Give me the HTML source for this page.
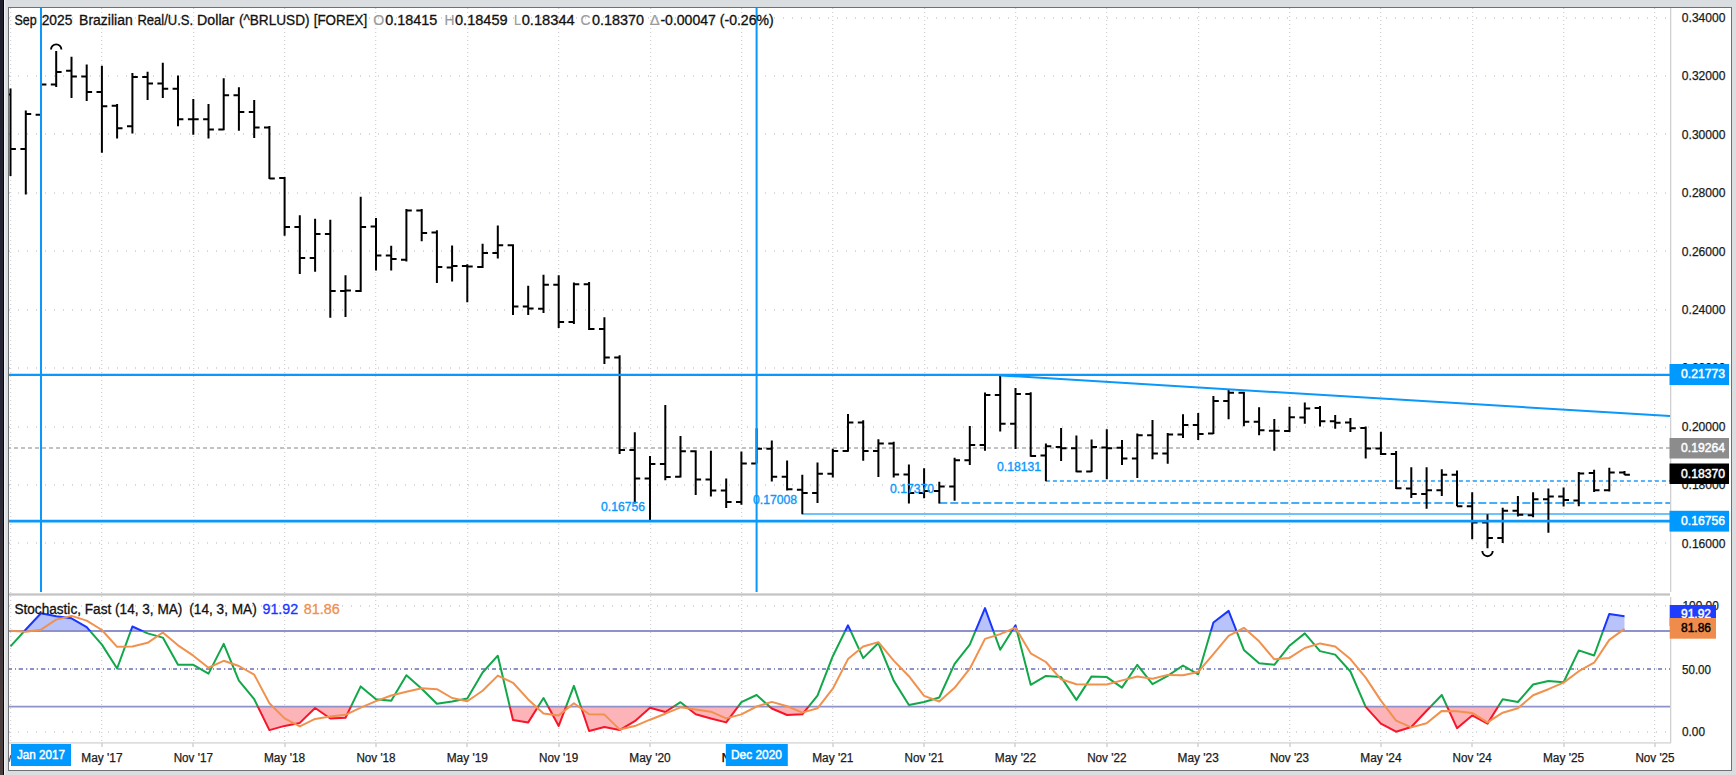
<!DOCTYPE html>
<html lang="en"><head><meta charset="utf-8"><title>Brazilian Real/U.S. Dollar (^BRLUSD) chart</title>
<style>
html,body{margin:0;padding:0;background:#dadee1;overflow:hidden}
body{width:1736px;height:775px;position:relative}
svg{position:absolute;left:0;top:0;display:block}
text{font-family:"Liberation Sans", sans-serif;}
.b{font-weight:normal;stroke:currentColor;stroke-width:0.45px}
</style></head><body>
<svg width="1736" height="775" viewBox="0 0 1736 775">
<defs>
<linearGradient id="lg" x1="0" y1="0" x2="0" y2="1"><stop offset="0" stop-color="#1f1f2e"/><stop offset="0.6" stop-color="#2a2838"/><stop offset="0.9" stop-color="#4a3e3e"/><stop offset="1" stop-color="#4a3e3e"/></linearGradient>
<clipPath id="cp"><rect x="9" y="8" width="1661" height="585"/></clipPath>
<clipPath id="cs"><rect x="9" y="596" width="1661" height="147"/></clipPath>
<clipPath id="c80"><rect x="9" y="596" width="1661" height="35.2"/></clipPath>
<clipPath id="c20"><rect x="9" y="706.6" width="1661" height="36.4"/></clipPath>
<clipPath id="cmid"><rect x="9" y="631.2" width="1661" height="75.5"/></clipPath>
<clipPath id="call"><rect x="9" y="8" width="1722" height="762"/></clipPath>
</defs>
<rect x="0" y="0" width="1736" height="775" fill="#dadee1"/>
<rect x="0" y="0" width="3" height="775" fill="url(#lg)"/>
<rect x="3" y="0" width="1" height="775" fill="#050505"/>
<rect x="4" y="0" width="1.3" height="775" fill="#f0f2f4"/>
<rect x="8.5" y="7.5" width="1723" height="763" fill="#ffffff" stroke="#6f7174" stroke-width="1"/>
<g stroke="#d3d3d8" stroke-width="1.3" stroke-dasharray="1 3" fill="none"><line x1="10.65" y1="8" x2="10.65" y2="593" /><line x1="10.65" y1="596" x2="10.65" y2="742" /><line x1="101.65" y1="8" x2="101.65" y2="593" /><line x1="101.65" y1="596" x2="101.65" y2="742" /><line x1="193.65" y1="8" x2="193.65" y2="593" /><line x1="193.65" y1="596" x2="193.65" y2="742" /><line x1="284.65" y1="8" x2="284.65" y2="593" /><line x1="284.65" y1="596" x2="284.65" y2="742" /><line x1="375.65" y1="8" x2="375.65" y2="593" /><line x1="375.65" y1="596" x2="375.65" y2="742" /><line x1="467.65" y1="8" x2="467.65" y2="593" /><line x1="467.65" y1="596" x2="467.65" y2="742" /><line x1="558.65" y1="8" x2="558.65" y2="593" /><line x1="558.65" y1="596" x2="558.65" y2="742" /><line x1="650.65" y1="8" x2="650.65" y2="593" /><line x1="650.65" y1="596" x2="650.65" y2="742" /><line x1="741.65" y1="8" x2="741.65" y2="593" /><line x1="741.65" y1="596" x2="741.65" y2="742" /><line x1="832.65" y1="8" x2="832.65" y2="593" /><line x1="832.65" y1="596" x2="832.65" y2="742" /><line x1="924.65" y1="8" x2="924.65" y2="593" /><line x1="924.65" y1="596" x2="924.65" y2="742" /><line x1="1015.65" y1="8" x2="1015.65" y2="593" /><line x1="1015.65" y1="596" x2="1015.65" y2="742" /><line x1="1106.65" y1="8" x2="1106.65" y2="593" /><line x1="1106.65" y1="596" x2="1106.65" y2="742" /><line x1="1198.65" y1="8" x2="1198.65" y2="593" /><line x1="1198.65" y1="596" x2="1198.65" y2="742" /><line x1="1289.65" y1="8" x2="1289.65" y2="593" /><line x1="1289.65" y1="596" x2="1289.65" y2="742" /><line x1="1380.65" y1="8" x2="1380.65" y2="593" /><line x1="1380.65" y1="596" x2="1380.65" y2="742" /><line x1="1472.65" y1="8" x2="1472.65" y2="593" /><line x1="1472.65" y1="596" x2="1472.65" y2="742" /><line x1="1563.65" y1="8" x2="1563.65" y2="593" /><line x1="1563.65" y1="596" x2="1563.65" y2="742" /><line x1="1654.65" y1="8" x2="1654.65" y2="593" /><line x1="1654.65" y1="596" x2="1654.65" y2="742" /></g>
<g stroke="#cdcdd2" stroke-width="1.5" stroke-dasharray="1 8" fill="none"><line x1="9" y1="18.0" x2="1670" y2="18.0" /><line x1="9" y1="76.0" x2="1670" y2="76.0" /><line x1="9" y1="134.0" x2="1670" y2="134.0" /><line x1="9" y1="193.0" x2="1670" y2="193.0" /><line x1="9" y1="251.0" x2="1670" y2="251.0" /><line x1="9" y1="310.0" x2="1670" y2="310.0" /><line x1="9" y1="368.0" x2="1670" y2="368.0" /><line x1="9" y1="427.0" x2="1670" y2="427.0" /><line x1="9" y1="485.0" x2="1670" y2="485.0" /><line x1="9" y1="543.0" x2="1670" y2="543.0" /><line x1="9" y1="732.0" x2="1670" y2="732.0" /><line x1="9" y1="669.0" x2="1670" y2="669.0" /><line x1="9" y1="606.0" x2="1670" y2="606.0" /></g>
<rect x="1670" y="8" width="1.3" height="584" fill="#d0d0d2"/>
<rect x="1670" y="597" width="1.3" height="146" fill="#d0d0d2"/>
<rect x="9" y="593.4" width="1661" height="2.2" fill="#c2c2c2"/>
<rect x="9" y="742.2" width="1662" height="1.4" fill="#d6d6d6"/>
<g fill="#cfcfcf"><rect x="101.3" y="743" width="1.4" height="4" /><rect x="192.3" y="743" width="1.4" height="4" /><rect x="284.3" y="743" width="1.4" height="4" /><rect x="375.3" y="743" width="1.4" height="4" /><rect x="466.3" y="743" width="1.4" height="4" /><rect x="558.3" y="743" width="1.4" height="4" /><rect x="649.3" y="743" width="1.4" height="4" /><rect x="740.3" y="743" width="1.4" height="4" /><rect x="832.3" y="743" width="1.4" height="4" /><rect x="923.3" y="743" width="1.4" height="4" /><rect x="1014.3" y="743" width="1.4" height="4" /><rect x="1106.3" y="743" width="1.4" height="4" /><rect x="1197.3" y="743" width="1.4" height="4" /><rect x="1289.3" y="743" width="1.4" height="4" /><rect x="1380.3" y="743" width="1.4" height="4" /><rect x="1471.3" y="743" width="1.4" height="4" /><rect x="1563.3" y="743" width="1.4" height="4" /><rect x="1654.3" y="743" width="1.4" height="4" /></g>
<g font-size="12" fill="#1a1a1a" stroke="#1a1a1a" stroke-width="0.25"><text x="1725.5" y="21.7" text-anchor="end" textLength="43.7" lengthAdjust="spacingAndGlyphs">0.34000</text><text x="1725.5" y="80.2" text-anchor="end" textLength="43.7" lengthAdjust="spacingAndGlyphs">0.32000</text><text x="1725.5" y="138.6" text-anchor="end" textLength="43.7" lengthAdjust="spacingAndGlyphs">0.30000</text><text x="1725.5" y="197.1" text-anchor="end" textLength="43.7" lengthAdjust="spacingAndGlyphs">0.28000</text><text x="1725.5" y="255.5" text-anchor="end" textLength="43.7" lengthAdjust="spacingAndGlyphs">0.26000</text><text x="1725.5" y="313.9" text-anchor="end" textLength="43.7" lengthAdjust="spacingAndGlyphs">0.24000</text><text x="1725.5" y="372.4" text-anchor="end" textLength="43.7" lengthAdjust="spacingAndGlyphs">0.22000</text><text x="1725.5" y="430.8" text-anchor="end" textLength="43.7" lengthAdjust="spacingAndGlyphs">0.20000</text><text x="1725.5" y="489.3" text-anchor="end" textLength="43.7" lengthAdjust="spacingAndGlyphs">0.18000</text><text x="1725.5" y="547.7" text-anchor="end" textLength="43.7" lengthAdjust="spacingAndGlyphs">0.16000</text></g>
<g font-size="12" fill="#1a1a1a" stroke="#1a1a1a" stroke-width="0.25">
<text x="1682.5" y="609.6" textLength="36.3" lengthAdjust="spacingAndGlyphs">100.00</text>
<text x="1682" y="673.6" textLength="29" lengthAdjust="spacingAndGlyphs">50.00</text>
<text x="1682" y="736.4" textLength="23" lengthAdjust="spacingAndGlyphs">0.00</text>
</g>
<g clip-path="url(#cp)">
<line x1="7" y1="448" x2="1670" y2="448" stroke="#c2c2c2" stroke-width="2" stroke-dasharray="4 3"/>
<line x1="802.3" y1="513.9" x2="1670" y2="513.9" stroke="#6ec3fd" stroke-width="2"/>
<line x1="939.3" y1="503" x2="1670" y2="503" stroke="#45aefb" stroke-width="1.8" stroke-dasharray="8 3"/>
<line x1="1045.9" y1="480.9" x2="1670" y2="480.9" stroke="#55b4fa" stroke-width="2" stroke-dasharray="4 3"/>
</g>
<path clip-path="url(#cp)" d="M10.5 88.5V176.0M5.1 94.5H10.5M10.5 148.9H15.9M25.8 110.5V194.5M20.4 148.9H25.8M25.8 114.0H31.2M41.0 74.5V114.8M35.6 114.8H41.0M41.0 84.4H46.4M56.2 51.1V87.0M50.8 84.4H56.2M56.2 72.0H61.6M71.5 56.8V98.0M66.1 70.7H71.5M71.5 76.4H76.9M86.7 64.5V101.1M81.3 76.4H86.7M86.7 92.1H92.1M101.9 65.8V152.8M96.5 92.1H101.9M101.9 106.3H107.3M117.1 104.0V138.5M111.7 105.8H117.1M117.1 128.2H122.5M132.4 73.0V133.5M127.0 126.2H132.4M132.4 76.9H137.8M147.6 71.8V99.9M142.2 76.9H147.6M147.6 83.6H153.0M162.8 62.7V98.0M157.4 83.6H162.8M162.8 88.8H168.2M178.0 75.6V126.2M172.6 88.8H178.0M178.0 119.2H183.4M193.3 98.9V134.7M187.9 119.2H193.3M193.3 119.2H198.7M208.5 104.0V138.5M203.1 119.2H208.5M208.5 129.5H213.9M223.7 78.2V130.3M218.3 129.5H223.7M223.7 95.2H229.1M238.9 87.2V130.8M233.5 95.2H238.9M238.9 112.0H244.3M254.2 100.1V138.0M248.8 112.0H254.2M254.2 127.5H259.6M269.4 126.0V179.1M264.0 127.5H269.4M269.4 178.5H274.8M284.6 177.1V235.7M279.2 178.1H284.6M284.6 227.1H290.0M299.8 215.3V273.9M294.4 227.1H299.8M299.8 258.1H305.2M315.1 218.7V271.8M309.7 258.1H315.1M315.1 233.9H320.5M330.3 219.7V317.7M324.9 233.9H330.3M330.3 291.1H335.7M345.5 275.2V317.0M340.1 291.1H345.5M345.5 290.6H350.9M360.7 196.7V291.9M355.3 291.1H360.7M360.7 227.1H366.1M376.0 217.9V270.5M370.6 226.6H376.0M376.0 255.5H381.4M391.2 245.8V270.5M385.8 255.5H391.2M391.2 258.9H396.6M406.4 208.9V261.5M401.0 259.7H406.4M406.4 210.4H411.8M421.7 208.9V241.3M416.3 210.4H421.7M421.7 233.1H427.1M436.9 230.3V282.9M431.5 232.5H436.9M436.9 267.1H442.3M452.1 245.5V281.5M446.7 267.4H452.1M452.1 266.1H457.5M467.3 264.3V302.2M461.9 266.1H467.3M467.3 266.6H472.7M482.6 243.7V267.9M477.2 267.1H482.6M482.6 253.0H488.0M497.8 225.6V258.4M492.4 253.0H497.8M497.8 245.2H503.2M513.0 244.2V314.9M507.6 245.2H513.0M513.0 306.6H518.4M528.2 285.8V314.9M522.8 306.6H528.2M528.2 308.4H533.6M543.5 274.7V313.1M538.1 308.7H543.5M543.5 284.7H548.9M558.7 275.2V328.0M553.3 284.7H558.7M558.7 322.1H564.1M573.9 282.4V323.9M568.5 322.1H573.9M573.9 284.2H579.3M589.1 281.9V329.9M583.7 284.2H589.1M589.1 329.1H594.5M604.4 317.2V364.0M599.0 329.1H604.4M604.4 357.6H609.8M619.6 355.3V453.9M614.2 357.6H619.6M619.6 450.0H625.0M634.8 432.2V503.4M629.4 450.0H634.8M634.8 478.4H640.2M650.0 456.0V521.5M644.6 478.4H650.0M650.0 463.9H655.4M665.3 404.9V480.2M659.9 463.9H665.3M665.3 477.1H670.7M680.5 436.1V477.6M675.1 476.8H680.5M680.5 451.3H685.9M695.7 450.3V495.1M690.3 451.3H695.7M695.7 479.4H701.1M710.9 450.8V496.4M705.5 479.4H710.9M710.9 490.5H716.3M726.2 478.4V508.0M720.8 490.5H726.2M726.2 502.1H731.6M741.4 451.5V504.7M736.0 502.1H741.4M741.4 463.4H746.8M756.6 428.3V463.5M751.2 463.4H756.6M756.6 448.7H762.0M771.8 440.5V481.5M766.4 448.7H771.8M771.8 476.8H777.2M787.1 460.6V490.5M781.7 476.8H787.1M787.1 489.2H792.5M802.3 474.8V514.2M796.9 489.7H802.3M802.3 493.1H807.7M817.5 462.4V502.9M812.1 493.1H817.5M817.5 473.7H822.9M832.8 448.7V477.6M827.4 473.7H832.8M832.8 451.0H838.2M848.0 413.9V451.8M842.6 451.0H848.0M848.0 422.6H853.4M863.2 420.3V460.8M857.8 422.6H863.2M863.2 451.0H868.6M878.4 439.2V477.1M873.0 451.0H878.4M878.4 443.5H883.8M893.7 441.8V477.6M888.3 443.5H893.7M893.7 474.5H899.1M908.9 464.5V503.4M903.5 474.5H908.9M908.9 493.1H914.3M924.1 468.3V498.2M918.7 493.1H924.1M924.1 491.0H929.5M939.3 481.8V503.4M933.9 491.0H939.3M939.3 486.6H944.7M954.6 457.8V500.8M949.2 486.6H954.6M954.6 460.3H960.0M969.8 426.0V464.9M964.4 460.3H969.8M969.8 444.9H975.2M985.0 392.6V450.7M979.6 444.9H985.0M985.0 394.9H990.4M1000.2 374.9V431.5M994.8 394.9H1000.2M1000.2 423.7H1005.6M1015.5 387.9V449.0M1010.1 423.7H1015.5M1015.5 394.0H1020.9M1030.7 392.3V456.8M1025.3 394.0H1030.7M1030.7 456.0H1036.1M1045.9 443.4V481.3M1040.5 455.5H1045.9M1045.9 446.2H1051.3M1061.1 427.9V461.1M1055.7 447.0H1061.1M1061.1 448.2H1066.5M1076.4 435.6V472.2M1071.0 448.2H1076.4M1076.4 471.5H1081.8M1091.6 439.5V472.0M1086.2 471.5H1091.6M1091.6 447.0H1097.0M1106.8 429.2V479.2M1101.4 447.5H1106.8M1106.8 448.2H1112.2M1122.0 440.0V465.0M1116.6 447.7H1122.0M1122.0 458.6H1127.4M1137.3 433.6V477.9M1131.9 458.6H1137.3M1137.3 435.3H1142.7M1152.5 420.1V459.3M1147.1 435.3H1152.5M1152.5 453.4H1157.9M1167.7 433.0V463.7M1162.3 453.4H1167.7M1167.7 434.6H1173.1M1183.0 414.2V437.9M1177.5 434.6H1183.0M1183.0 425.0H1188.4M1198.2 412.9V440.0M1192.8 425.0H1198.2M1198.2 434.0H1203.6M1213.4 396.1V434.0M1208.0 433.5H1213.4M1213.4 401.0H1218.8M1228.6 389.2V419.3M1223.2 401.0H1228.6M1228.6 392.8H1234.0M1243.9 391.8V426.3M1238.5 392.8H1243.9M1243.9 421.7H1249.3M1259.1 407.2V435.3M1253.7 421.7H1259.1M1259.1 430.2H1264.5M1274.3 418.9V450.8M1268.9 430.7H1274.3M1274.3 430.7H1279.7M1289.5 406.7V432.0M1284.1 431.0H1289.5M1289.5 417.3H1294.9M1304.8 402.6V423.7M1299.4 417.5H1304.8M1304.8 408.5H1310.2M1320.0 406.0V426.6M1314.6 407.9H1320.0M1320.0 421.3H1325.4M1335.2 414.9V428.8M1329.8 421.3H1335.2M1335.2 422.8H1340.6M1350.4 417.9V431.9M1345.0 422.5H1350.4M1350.4 428.3H1355.8M1365.7 426.6V458.5M1360.3 428.1H1365.7M1365.7 448.6H1371.1M1380.9 431.8V455.0M1375.5 448.6H1380.9M1380.9 454.1H1386.3M1396.1 451.0V488.9M1390.7 454.1H1396.1M1396.1 488.3H1401.5M1411.3 467.2V497.9M1405.9 488.4H1411.3M1411.3 494.0H1416.7M1426.6 467.2V508.8M1421.2 494.0H1426.6M1426.6 490.2H1432.0M1441.8 469.3V495.9M1436.4 490.2H1441.8M1441.8 474.7H1447.2M1457.0 470.6V506.2M1451.6 474.7H1457.0M1457.0 506.2H1462.4M1472.2 492.3V539.2M1466.8 506.2H1472.2M1472.2 522.4H1477.6M1487.5 514.2V548.2M1482.1 522.4H1487.5M1487.5 537.9H1492.9M1502.7 507.8V543.1M1497.3 537.9H1502.7M1502.7 510.8H1508.1M1517.9 496.1V516.5M1512.5 510.8H1517.9M1517.9 514.7H1523.3M1533.1 492.3V517.3M1527.7 515.2H1533.1M1533.1 499.2H1538.5M1548.4 488.4V532.8M1543.0 499.2H1548.4M1548.4 496.6H1553.8M1563.6 487.4V506.4M1558.2 496.6H1563.6M1563.6 500.0H1569.0M1578.8 471.9V506.2M1573.4 500.5H1578.8M1578.8 473.4H1584.2M1594.1 469.8V492.0M1588.7 472.9H1594.1M1594.1 490.2H1599.5M1609.3 467.8V491.5M1603.9 490.2H1609.3M1609.3 472.6H1614.7M1624.5 471.1V475.1M1619.1 472.6H1624.5M1624.5 474.7H1629.9" stroke="#000" stroke-width="2" fill="none"/>
<path d="M51.0 49.6A5 5 0 0 1 61.4 49.6" stroke="#000" stroke-width="1.9" fill="none"/>
<path d="M1482.3 551A5 5 0 0 0 1492.7 551" stroke="#000" stroke-width="1.9" fill="none"/>
<g clip-path="url(#cp)" stroke="#0a98fb" fill="none">
<line x1="9" y1="374.8" x2="1670" y2="374.8" stroke-width="2.2"/>
<line x1="9" y1="521.2" x2="1670" y2="521.2" stroke-width="2.8"/>
<line x1="41" y1="8" x2="41" y2="592" stroke-width="2"/>
<line x1="756.6" y1="8" x2="756.6" y2="592" stroke-width="2"/>
<line x1="1000.2" y1="375.4" x2="1670" y2="416.1" stroke-width="2"/>
</g>
<g font-size="12" fill="#0a98fb" stroke="#0a98fb" stroke-width="0.35">
<text x="601" y="511.4" textLength="44" lengthAdjust="spacingAndGlyphs">0.16756</text>
<text x="753" y="504.4" textLength="44" lengthAdjust="spacingAndGlyphs">0.17008</text>
<text x="890" y="493.4" textLength="44" lengthAdjust="spacingAndGlyphs">0.17370</text>
<text x="997" y="471" textLength="44" lengthAdjust="spacingAndGlyphs">0.18131</text>
</g>
<path d="M10.5 631.2 L10.5 646.4 L25.8 629.5 L41.0 613.2 L56.2 616.2 L71.5 618.3 L86.7 627.2 L101.9 644.6 L117.1 668.5 L132.4 626.5 L147.6 633.4 L162.8 637.6 L178.0 664.8 L193.3 664.8 L208.5 673.6 L223.7 643.9 L238.9 680.6 L254.2 699.2 L269.4 730.1 L284.6 725.9 L299.8 722.9 L315.1 708.0 L330.3 718.5 L345.5 717.8 L360.7 686.4 L376.0 699.2 L391.2 700.8 L406.4 675.2 L421.7 688.7 L436.9 703.8 L452.1 701.5 L467.3 698.5 L482.6 672.5 L497.8 655.7 L513.0 720.1 L528.2 722.4 L543.5 698.0 L558.7 725.9 L573.9 685.9 L589.1 731.0 L604.4 727.0 L619.6 730.1 L634.8 721.2 L650.0 707.8 L665.3 712.0 L680.5 702.2 L695.7 714.3 L710.9 718.5 L726.2 722.4 L741.4 702.2 L756.6 695.0 L771.8 708.5 L787.1 715.0 L802.3 714.3 L817.5 695.7 L832.8 656.2 L848.0 625.3 L863.2 658.1 L878.4 643.0 L893.7 680.6 L908.9 705.0 L924.1 702.0 L939.3 697.5 L954.6 663.9 L969.8 644.6 L985.0 608.1 L1000.2 649.7 L1015.5 625.3 L1030.7 684.8 L1045.9 675.9 L1061.1 677.1 L1076.4 699.9 L1091.6 676.4 L1106.8 677.1 L1122.0 687.6 L1137.3 664.8 L1152.5 684.1 L1167.7 675.9 L1183.0 665.5 L1198.2 674.3 L1213.4 622.5 L1228.6 610.9 L1243.9 649.9 L1259.1 663.2 L1274.3 664.8 L1289.5 645.7 L1304.8 633.4 L1320.0 651.1 L1335.2 654.6 L1350.4 671.5 L1365.7 706.8 L1380.9 723.6 L1396.1 731.7 L1411.3 727.0 L1426.6 710.8 L1441.8 695.0 L1457.0 728.2 L1472.2 715.4 L1487.5 723.6 L1502.7 699.2 L1517.9 702.0 L1533.1 684.5 L1548.4 681.1 L1563.6 682.2 L1578.8 650.4 L1594.1 655.5 L1609.3 613.9 L1624.5 616.2 L1624.5 631.2 Z" fill="#b9c3fb" clip-path="url(#c80)"/>
<path d="M10.5 706.6 L10.5 646.4 L25.8 629.5 L41.0 613.2 L56.2 616.2 L71.5 618.3 L86.7 627.2 L101.9 644.6 L117.1 668.5 L132.4 626.5 L147.6 633.4 L162.8 637.6 L178.0 664.8 L193.3 664.8 L208.5 673.6 L223.7 643.9 L238.9 680.6 L254.2 699.2 L269.4 730.1 L284.6 725.9 L299.8 722.9 L315.1 708.0 L330.3 718.5 L345.5 717.8 L360.7 686.4 L376.0 699.2 L391.2 700.8 L406.4 675.2 L421.7 688.7 L436.9 703.8 L452.1 701.5 L467.3 698.5 L482.6 672.5 L497.8 655.7 L513.0 720.1 L528.2 722.4 L543.5 698.0 L558.7 725.9 L573.9 685.9 L589.1 731.0 L604.4 727.0 L619.6 730.1 L634.8 721.2 L650.0 707.8 L665.3 712.0 L680.5 702.2 L695.7 714.3 L710.9 718.5 L726.2 722.4 L741.4 702.2 L756.6 695.0 L771.8 708.5 L787.1 715.0 L802.3 714.3 L817.5 695.7 L832.8 656.2 L848.0 625.3 L863.2 658.1 L878.4 643.0 L893.7 680.6 L908.9 705.0 L924.1 702.0 L939.3 697.5 L954.6 663.9 L969.8 644.6 L985.0 608.1 L1000.2 649.7 L1015.5 625.3 L1030.7 684.8 L1045.9 675.9 L1061.1 677.1 L1076.4 699.9 L1091.6 676.4 L1106.8 677.1 L1122.0 687.6 L1137.3 664.8 L1152.5 684.1 L1167.7 675.9 L1183.0 665.5 L1198.2 674.3 L1213.4 622.5 L1228.6 610.9 L1243.9 649.9 L1259.1 663.2 L1274.3 664.8 L1289.5 645.7 L1304.8 633.4 L1320.0 651.1 L1335.2 654.6 L1350.4 671.5 L1365.7 706.8 L1380.9 723.6 L1396.1 731.7 L1411.3 727.0 L1426.6 710.8 L1441.8 695.0 L1457.0 728.2 L1472.2 715.4 L1487.5 723.6 L1502.7 699.2 L1517.9 702.0 L1533.1 684.5 L1548.4 681.1 L1563.6 682.2 L1578.8 650.4 L1594.1 655.5 L1609.3 613.9 L1624.5 616.2 L1624.5 706.6 Z" fill="#fdb4b8" clip-path="url(#c20)"/>
<g stroke="#8d92ca" fill="none" clip-path="url(#cs)">
<line x1="9" y1="631" x2="1670" y2="631" stroke-width="1.8"/>
<line x1="9" y1="706.6" x2="1670" y2="706.6" stroke-width="1.8"/>
<line x1="8" y1="669" x2="1670" y2="669" stroke-width="2" stroke-dasharray="4 3 1 3"/>
</g>
<g fill="none" stroke-width="2" stroke-linejoin="round">
<polyline points="10.5,646.4 25.8,629.5 41.0,613.2 56.2,616.2 71.5,618.3 86.7,627.2 101.9,644.6 117.1,668.5 132.4,626.5 147.6,633.4 162.8,637.6 178.0,664.8 193.3,664.8 208.5,673.6 223.7,643.9 238.9,680.6 254.2,699.2 269.4,730.1 284.6,725.9 299.8,722.9 315.1,708.0 330.3,718.5 345.5,717.8 360.7,686.4 376.0,699.2 391.2,700.8 406.4,675.2 421.7,688.7 436.9,703.8 452.1,701.5 467.3,698.5 482.6,672.5 497.8,655.7 513.0,720.1 528.2,722.4 543.5,698.0 558.7,725.9 573.9,685.9 589.1,731.0 604.4,727.0 619.6,730.1 634.8,721.2 650.0,707.8 665.3,712.0 680.5,702.2 695.7,714.3 710.9,718.5 726.2,722.4 741.4,702.2 756.6,695.0 771.8,708.5 787.1,715.0 802.3,714.3 817.5,695.7 832.8,656.2 848.0,625.3 863.2,658.1 878.4,643.0 893.7,680.6 908.9,705.0 924.1,702.0 939.3,697.5 954.6,663.9 969.8,644.6 985.0,608.1 1000.2,649.7 1015.5,625.3 1030.7,684.8 1045.9,675.9 1061.1,677.1 1076.4,699.9 1091.6,676.4 1106.8,677.1 1122.0,687.6 1137.3,664.8 1152.5,684.1 1167.7,675.9 1183.0,665.5 1198.2,674.3 1213.4,622.5 1228.6,610.9 1243.9,649.9 1259.1,663.2 1274.3,664.8 1289.5,645.7 1304.8,633.4 1320.0,651.1 1335.2,654.6 1350.4,671.5 1365.7,706.8 1380.9,723.6 1396.1,731.7 1411.3,727.0 1426.6,710.8 1441.8,695.0 1457.0,728.2 1472.2,715.4 1487.5,723.6 1502.7,699.2 1517.9,702.0 1533.1,684.5 1548.4,681.1 1563.6,682.2 1578.8,650.4 1594.1,655.5 1609.3,613.9 1624.5,616.2" stroke="#12a84a" clip-path="url(#cmid)"/>
<polyline points="10.5,646.4 25.8,629.5 41.0,613.2 56.2,616.2 71.5,618.3 86.7,627.2 101.9,644.6 117.1,668.5 132.4,626.5 147.6,633.4 162.8,637.6 178.0,664.8 193.3,664.8 208.5,673.6 223.7,643.9 238.9,680.6 254.2,699.2 269.4,730.1 284.6,725.9 299.8,722.9 315.1,708.0 330.3,718.5 345.5,717.8 360.7,686.4 376.0,699.2 391.2,700.8 406.4,675.2 421.7,688.7 436.9,703.8 452.1,701.5 467.3,698.5 482.6,672.5 497.8,655.7 513.0,720.1 528.2,722.4 543.5,698.0 558.7,725.9 573.9,685.9 589.1,731.0 604.4,727.0 619.6,730.1 634.8,721.2 650.0,707.8 665.3,712.0 680.5,702.2 695.7,714.3 710.9,718.5 726.2,722.4 741.4,702.2 756.6,695.0 771.8,708.5 787.1,715.0 802.3,714.3 817.5,695.7 832.8,656.2 848.0,625.3 863.2,658.1 878.4,643.0 893.7,680.6 908.9,705.0 924.1,702.0 939.3,697.5 954.6,663.9 969.8,644.6 985.0,608.1 1000.2,649.7 1015.5,625.3 1030.7,684.8 1045.9,675.9 1061.1,677.1 1076.4,699.9 1091.6,676.4 1106.8,677.1 1122.0,687.6 1137.3,664.8 1152.5,684.1 1167.7,675.9 1183.0,665.5 1198.2,674.3 1213.4,622.5 1228.6,610.9 1243.9,649.9 1259.1,663.2 1274.3,664.8 1289.5,645.7 1304.8,633.4 1320.0,651.1 1335.2,654.6 1350.4,671.5 1365.7,706.8 1380.9,723.6 1396.1,731.7 1411.3,727.0 1426.6,710.8 1441.8,695.0 1457.0,728.2 1472.2,715.4 1487.5,723.6 1502.7,699.2 1517.9,702.0 1533.1,684.5 1548.4,681.1 1563.6,682.2 1578.8,650.4 1594.1,655.5 1609.3,613.9 1624.5,616.2" stroke="#1a36ff" clip-path="url(#c80)"/>
<polyline points="10.5,646.4 25.8,629.5 41.0,613.2 56.2,616.2 71.5,618.3 86.7,627.2 101.9,644.6 117.1,668.5 132.4,626.5 147.6,633.4 162.8,637.6 178.0,664.8 193.3,664.8 208.5,673.6 223.7,643.9 238.9,680.6 254.2,699.2 269.4,730.1 284.6,725.9 299.8,722.9 315.1,708.0 330.3,718.5 345.5,717.8 360.7,686.4 376.0,699.2 391.2,700.8 406.4,675.2 421.7,688.7 436.9,703.8 452.1,701.5 467.3,698.5 482.6,672.5 497.8,655.7 513.0,720.1 528.2,722.4 543.5,698.0 558.7,725.9 573.9,685.9 589.1,731.0 604.4,727.0 619.6,730.1 634.8,721.2 650.0,707.8 665.3,712.0 680.5,702.2 695.7,714.3 710.9,718.5 726.2,722.4 741.4,702.2 756.6,695.0 771.8,708.5 787.1,715.0 802.3,714.3 817.5,695.7 832.8,656.2 848.0,625.3 863.2,658.1 878.4,643.0 893.7,680.6 908.9,705.0 924.1,702.0 939.3,697.5 954.6,663.9 969.8,644.6 985.0,608.1 1000.2,649.7 1015.5,625.3 1030.7,684.8 1045.9,675.9 1061.1,677.1 1076.4,699.9 1091.6,676.4 1106.8,677.1 1122.0,687.6 1137.3,664.8 1152.5,684.1 1167.7,675.9 1183.0,665.5 1198.2,674.3 1213.4,622.5 1228.6,610.9 1243.9,649.9 1259.1,663.2 1274.3,664.8 1289.5,645.7 1304.8,633.4 1320.0,651.1 1335.2,654.6 1350.4,671.5 1365.7,706.8 1380.9,723.6 1396.1,731.7 1411.3,727.0 1426.6,710.8 1441.8,695.0 1457.0,728.2 1472.2,715.4 1487.5,723.6 1502.7,699.2 1517.9,702.0 1533.1,684.5 1548.4,681.1 1563.6,682.2 1578.8,650.4 1594.1,655.5 1609.3,613.9 1624.5,616.2" stroke="#f8152a" clip-path="url(#c20)"/>
<polyline points="10.5,630.7 25.8,631.8 41.0,629.7 56.2,619.6 71.5,615.9 86.7,620.6 101.9,630.0 117.1,646.8 132.4,646.5 147.6,642.8 162.8,632.5 178.0,645.3 193.3,655.7 208.5,667.7 223.7,660.8 238.9,666.0 254.2,674.6 269.4,703.3 284.6,718.4 299.8,726.3 315.1,718.9 330.3,716.5 345.5,714.8 360.7,707.6 376.0,701.1 391.2,695.5 406.4,691.7 421.7,688.2 436.9,689.2 452.1,698.0 467.3,701.3 482.6,690.8 497.8,675.6 513.0,682.8 528.2,699.4 543.5,713.5 558.7,715.4 573.9,703.3 589.1,714.3 604.4,714.6 619.6,729.4 634.8,726.1 650.0,719.7 665.3,713.7 680.5,707.3 695.7,709.5 710.9,711.7 726.2,718.4 741.4,714.4 756.6,706.5 771.8,701.9 787.1,706.2 802.3,712.6 817.5,708.3 832.8,688.7 848.0,659.1 863.2,646.5 878.4,642.1 893.7,660.6 908.9,676.2 924.1,695.9 939.3,701.5 954.6,687.8 969.8,668.7 985.0,638.9 1000.2,634.1 1015.5,627.7 1030.7,653.3 1045.9,662.0 1061.1,679.3 1076.4,684.3 1091.6,684.5 1106.8,684.5 1122.0,680.4 1137.3,676.5 1152.5,678.8 1167.7,674.9 1183.0,675.2 1198.2,671.9 1213.4,654.1 1228.6,635.9 1243.9,627.8 1259.1,641.3 1274.3,659.3 1289.5,657.9 1304.8,648.0 1320.0,643.4 1335.2,646.4 1350.4,659.1 1365.7,677.6 1380.9,700.6 1396.1,720.7 1411.3,727.4 1426.6,723.2 1441.8,710.9 1457.0,711.3 1472.2,712.9 1487.5,722.4 1502.7,712.7 1517.9,708.3 1533.1,695.2 1548.4,689.2 1563.6,682.6 1578.8,671.2 1594.1,662.7 1609.3,639.9 1624.5,628.9" stroke="#f0914d" clip-path="url(#cs)"/>
</g>
<rect x="1669.5" y="364" width="59.5" height="21" fill="#0099ff"/>
<rect x="1669.5" y="438" width="59.5" height="20.5" fill="#8c8c8c"/>
<rect x="1669.5" y="463.5" width="59.5" height="20.5" fill="#000000"/>
<rect x="1669.5" y="510.8" width="59.5" height="20.8" fill="#0099ff"/>
<g font-size="12" fill="#ffffff" color="#ffffff" class="b">
<text x="1725" y="378.3" text-anchor="end" textLength="44" lengthAdjust="spacingAndGlyphs">0.21773</text>
<text x="1725" y="452.4" text-anchor="end" textLength="44" lengthAdjust="spacingAndGlyphs">0.19264</text>
<text x="1725" y="478.0" text-anchor="end" textLength="44" lengthAdjust="spacingAndGlyphs">0.18370</text>
<text x="1725" y="525.4" text-anchor="end" textLength="44" lengthAdjust="spacingAndGlyphs">0.16756</text>
</g>
<rect x="1669.7" y="605" width="46.3" height="21" fill="#1f3dff"/>
<text class="b" font-size="12" fill="#ffffff" color="#ffffff" x="1681" y="618.3" textLength="30" lengthAdjust="spacingAndGlyphs">91.92</text>
<rect x="1669.7" y="618" width="46.3" height="20.7" fill="#f08c4b"/>
<text class="b" font-size="12" fill="#000000" color="#000000" x="1681" y="632.2" textLength="30" lengthAdjust="spacingAndGlyphs">81.86</text>
<g font-size="12" fill="#1a1a1a" stroke="#1a1a1a" stroke-width="0.25"><text x="101.9" y="762" text-anchor="middle" textLength="41.3" lengthAdjust="spacingAndGlyphs">May '17</text><text x="193.3" y="762" text-anchor="middle" textLength="39.2" lengthAdjust="spacingAndGlyphs">Nov '17</text><text x="284.6" y="762" text-anchor="middle" textLength="41.3" lengthAdjust="spacingAndGlyphs">May '18</text><text x="376.0" y="762" text-anchor="middle" textLength="39.2" lengthAdjust="spacingAndGlyphs">Nov '18</text><text x="467.3" y="762" text-anchor="middle" textLength="41.3" lengthAdjust="spacingAndGlyphs">May '19</text><text x="558.7" y="762" text-anchor="middle" textLength="39.2" lengthAdjust="spacingAndGlyphs">Nov '19</text><text x="650.0" y="762" text-anchor="middle" textLength="41.3" lengthAdjust="spacingAndGlyphs">May '20</text><text x="741.4" y="762" text-anchor="middle" textLength="39.2" lengthAdjust="spacingAndGlyphs">Nov '20</text><text x="832.8" y="762" text-anchor="middle" textLength="41.3" lengthAdjust="spacingAndGlyphs">May '21</text><text x="924.1" y="762" text-anchor="middle" textLength="39.2" lengthAdjust="spacingAndGlyphs">Nov '21</text><text x="1015.5" y="762" text-anchor="middle" textLength="41.3" lengthAdjust="spacingAndGlyphs">May '22</text><text x="1106.8" y="762" text-anchor="middle" textLength="39.2" lengthAdjust="spacingAndGlyphs">Nov '22</text><text x="1198.2" y="762" text-anchor="middle" textLength="41.3" lengthAdjust="spacingAndGlyphs">May '23</text><text x="1289.5" y="762" text-anchor="middle" textLength="39.2" lengthAdjust="spacingAndGlyphs">Nov '23</text><text x="1380.9" y="762" text-anchor="middle" textLength="41.3" lengthAdjust="spacingAndGlyphs">May '24</text><text x="1472.2" y="762" text-anchor="middle" textLength="39.2" lengthAdjust="spacingAndGlyphs">Nov '24</text><text x="1563.6" y="762" text-anchor="middle" textLength="41.3" lengthAdjust="spacingAndGlyphs">May '25</text><text x="1655.0" y="762" text-anchor="middle" textLength="39.2" lengthAdjust="spacingAndGlyphs">Nov '25</text></g>
<text font-size="12" fill="#1a1a1a" x="741.4" y="762" text-anchor="middle" textLength="39.2" lengthAdjust="spacingAndGlyphs">Nov '20</text>
<text clip-path="url(#call)" font-size="12" fill="#1a1a1a" x="10.5" y="762" text-anchor="middle" textLength="39.2" lengthAdjust="spacingAndGlyphs">Nov '16</text>
<rect x="11" y="744" width="60" height="22" fill="#0099ff"/>
<text class="b" font-size="12" fill="#fff" color="#fff" x="17" y="759" textLength="48" lengthAdjust="spacingAndGlyphs">Jan 2017</text>
<rect x="725.8" y="744" width="62" height="22" fill="#0099ff"/>
<text class="b" font-size="12" fill="#fff" color="#fff" x="731" y="759" textLength="51" lengthAdjust="spacingAndGlyphs">Dec 2020</text>
<g font-size="14" fill="#111" stroke="#111" stroke-width="0.3">
<text x="14.4" y="24.8" textLength="22.2" lengthAdjust="spacingAndGlyphs">Sep</text>
<text x="41.7" y="24.8" textLength="30.7" lengthAdjust="spacingAndGlyphs">2025</text>
<text x="79.1" y="24.8" textLength="53.6" lengthAdjust="spacingAndGlyphs">Brazilian</text>
<text x="137.4" y="24.8" textLength="55.7" lengthAdjust="spacingAndGlyphs">Real/U.S.</text>
<text x="197.1" y="24.8" textLength="37.1" lengthAdjust="spacingAndGlyphs">Dollar</text>
<text x="238.9" y="24.8" textLength="70.6" lengthAdjust="spacingAndGlyphs">(^BRLUSD)</text>
<text x="313.7" y="24.8" textLength="53.6" lengthAdjust="spacingAndGlyphs">[FOREX]</text>
<text x="385.3" y="24.8" textLength="52" lengthAdjust="spacingAndGlyphs">0.18415</text>
<text x="455" y="24.8" textLength="52.6" lengthAdjust="spacingAndGlyphs">0.18459</text>
<text x="521.7" y="24.8" textLength="53" lengthAdjust="spacingAndGlyphs">0.18344</text>
<text x="592" y="24.8" textLength="52" lengthAdjust="spacingAndGlyphs">0.18370</text>
<text x="660.4" y="24.8" textLength="113.3" lengthAdjust="spacingAndGlyphs">-0.00047 (-0.26%)</text>
</g>
<g font-size="14" fill="#9a9a9a" stroke="#9a9a9a" stroke-width="0.2">
<text x="373.2" y="24.8" textLength="11" lengthAdjust="spacingAndGlyphs">O</text>
<text x="444.4" y="24.8" textLength="10" lengthAdjust="spacingAndGlyphs">H</text>
<text x="514" y="24.8" textLength="7" lengthAdjust="spacingAndGlyphs">L</text>
<text x="580.5" y="24.8" textLength="10" lengthAdjust="spacingAndGlyphs">C</text>
<text x="649.7" y="24.8" textLength="10" lengthAdjust="spacingAndGlyphs">Δ</text>
</g>
<g font-size="14" stroke-width="0.3">
<text x="14.4" y="613.8" fill="#111" stroke="#111" textLength="168" lengthAdjust="spacingAndGlyphs">Stochastic, Fast (14, 3, MA)</text>
<text x="189.3" y="613.8" fill="#111" stroke="#111" textLength="67.4" lengthAdjust="spacingAndGlyphs">(14, 3, MA)</text>
<text x="262.5" y="613.8" fill="#1a36ff" stroke="#1a36ff" textLength="35.6" lengthAdjust="spacingAndGlyphs">91.92</text>
<text x="303.8" y="613.8" fill="#f0914d" stroke="#f0914d" textLength="35.8" lengthAdjust="spacingAndGlyphs">81.86</text>
</g>
</svg>
</body></html>
